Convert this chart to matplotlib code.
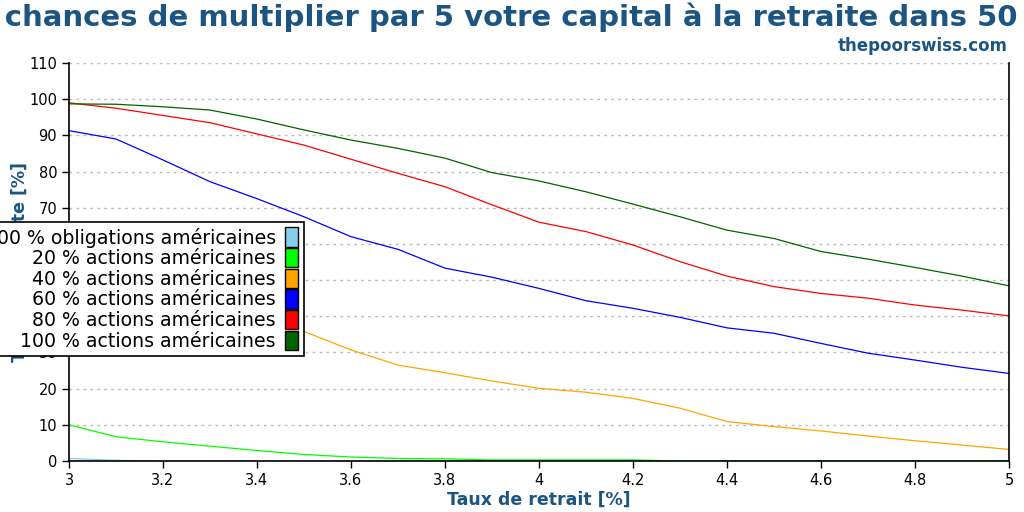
import matplotlib
matplotlib.use('Agg')
import matplotlib.pyplot as plt
import matplotlib.patches as mpatches
import numpy as np

# taux de retrait (%)
taux = [3.0, 3.1, 3.2, 3.3, 3.4, 3.5, 3.6, 3.7, 3.8, 3.9, 4.0,
        4.1, 4.2, 4.3, 4.4, 4.5, 4.6, 4.7, 4.8, 4.9, 5.0]

obligations_100 = [0.7, 0.2, 0, 0, 0, 0, 0, 0, 0, 0, 0,
                   0, 0, 0, 0, 0, 0, 0, 0, 0, 0]
actions_20 = [10.0, 6.7, 5.3, 4.1, 2.9, 1.8, 1.1, 0.7, 0.6, 0.3, 0.3,
              0.3, 0.3, 0, 0, 0, 0, 0, 0, 0, 0]
actions_40 = [62.0, 56.0, 50.0, 45.0, 40.0, 35.8, 30.7, 26.5, 24.4, 22.1, 20.1,
              19.0, 17.3, 14.6, 10.9, 9.5, 8.3, 6.9, 5.6, 4.4, 3.2]
actions_60 = [91.3, 89.0, 83.2, 77.2, 72.5, 67.5, 62.0, 58.5, 53.3, 50.8, 47.7,
              44.3, 42.2, 39.7, 36.8, 35.3, 32.5, 29.8, 27.9, 25.9, 24.2]
actions_80 = [99.0, 97.5, 95.5, 93.5, 90.4, 87.3, 83.4, 79.5, 75.8, 70.8, 66.0,
              63.4, 59.7, 55.1, 51.1, 48.2, 46.3, 45.0, 43.1, 41.7, 40.1]
actions_100 = [98.7, 98.6, 97.9, 97.0, 94.5, 91.5, 88.7, 86.4, 83.7, 79.7, 77.4,
               74.4, 71.0, 67.5, 63.8, 61.5, 57.9, 55.8, 53.5, 51.1, 48.4]

labels = ['100 % obligations américaines', '20 % actions américaines',
          '40 % actions américaines', '60 % actions américaines',
          '80 % actions américaines', '100 % actions américaines']
colors = ['#87ceeb', '#00ff00', '#ffa500', '#0000ff', '#ff0000', '#006400']
series = [obligations_100, actions_20, actions_40, actions_60, actions_80, actions_100]

title_color = '#1c5582'

fig = plt.figure(figsize=(10.24, 5.12), dpi=100)
ax = fig.add_axes([69/1024, 1 - 461/512, 940/1024, 398/512])

for s, c in zip(series, colors):
    ax.plot(taux, s, color=c, linewidth=0.9)

ax.set_xlim(3, 5)
ax.set_ylim(0, 110)
ax.set_yticks(np.arange(0, 111, 10))
ax.set_xticks([3, 3.2, 3.4, 3.6, 3.8, 4, 4.2, 4.4, 4.6, 4.8, 5])
ax.set_xticklabels(['3', '3.2', '3.4', '3.6', '3.8', '4', '4.2', '4.4', '4.6', '4.8', '5'])
ax.tick_params(labelsize=10.5, direction='out', length=5, width=1, colors='black')
ax.grid(axis='y', linestyle=(0, (2, 3)), color='#bbbbbb', linewidth=1)
ax.set_axisbelow(True)
ax.spines['top'].set_visible(False)
for sp in ['left', 'right', 'bottom']:
    ax.spines[sp].set_linewidth(1.2)

ax.set_xlabel('Taux de retrait [%]', fontsize=12.5, fontweight='bold', color=title_color, labelpad=2)
ax.set_ylabel('Taux de réussite [%]', fontsize=12.5, fontweight='bold', color=title_color, labelpad=0)

handles = [mpatches.Patch(facecolor=c, edgecolor='black', linewidth=1) for c in colors]
leg = ax.legend(handles, labels, loc='center right', bbox_to_anchor=(0.25, 0.432),
                markerfirst=False, fontsize=13.6, frameon=True, fancybox=False,
                edgecolor='black', framealpha=1, handlelength=0.7, handleheight=1.2,
                handletextpad=0.5, labelspacing=0.03, borderpad=0.3, borderaxespad=0)
leg.get_frame().set_linewidth(1.2)

fig.text(0.5, 1 - 17/512, 'Les chances de multiplier par 5 votre capital à la retraite dans 50 ans',
         ha='center', va='center', fontsize=21, fontweight='bold', color=title_color)
fig.text(1008/1024, 1 - 46/512, 'thepoorswiss.com', ha='right', va='center',
         fontsize=12, fontweight='bold', color=title_color)

fig.savefig('out.png', dpi=100)
